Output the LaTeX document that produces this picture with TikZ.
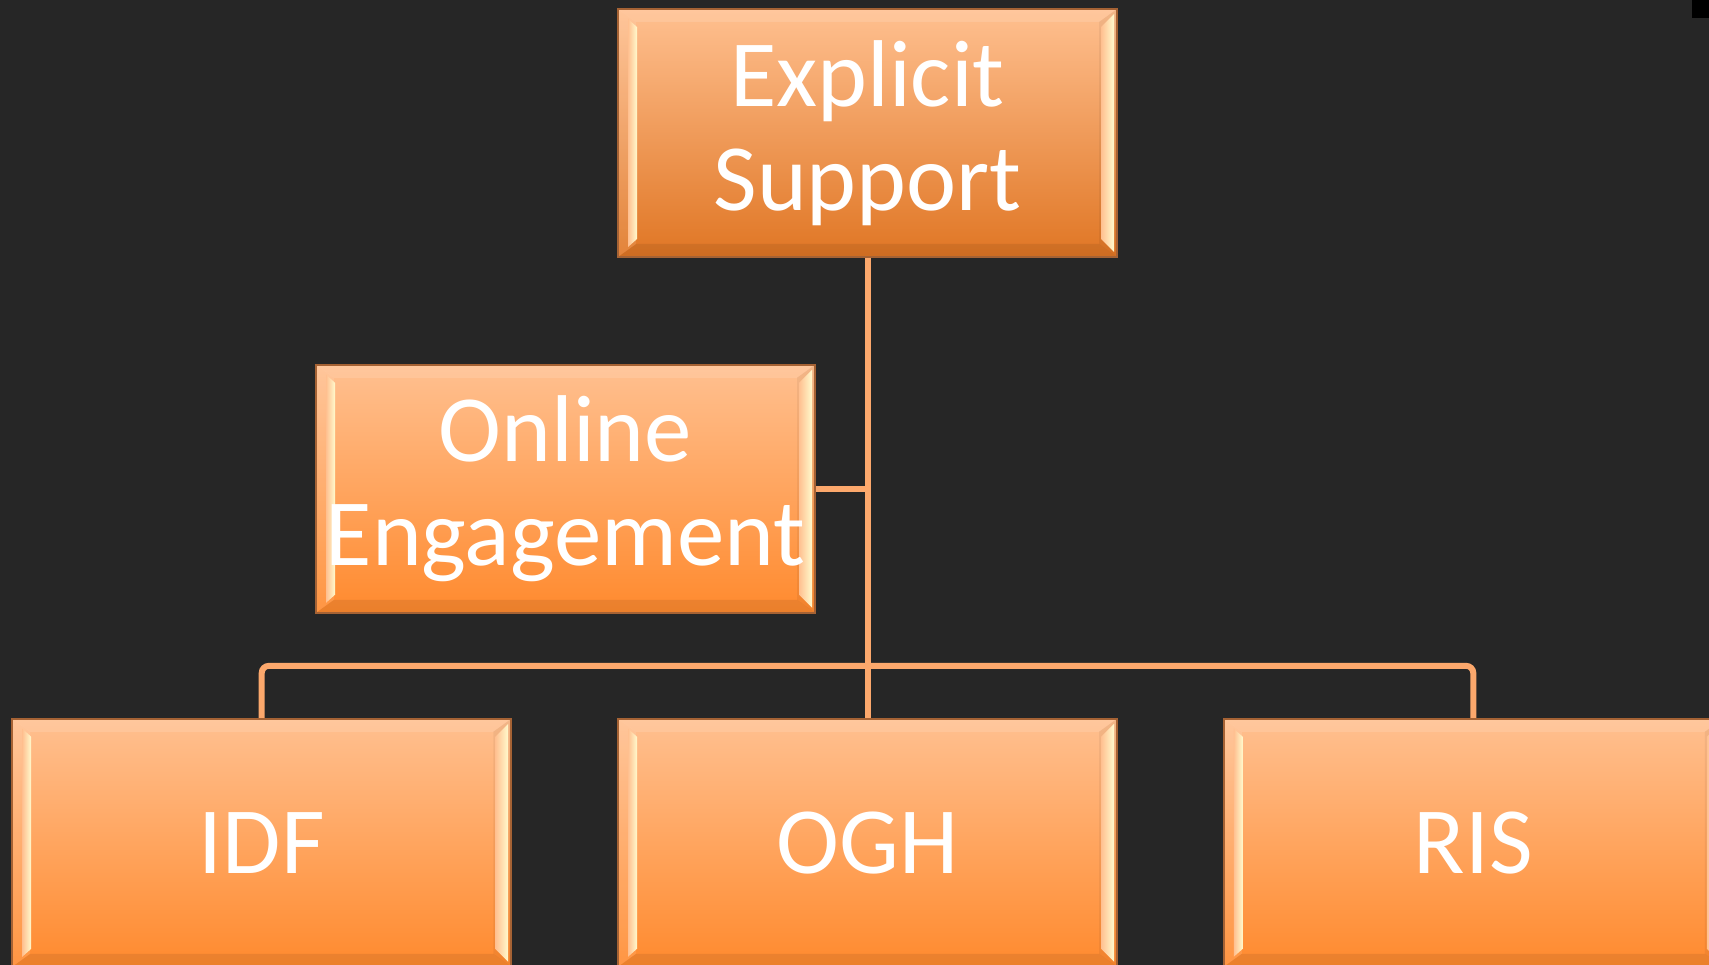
\documentclass[tikz,border=0pt]{standalone}
\usepackage{fontspec}
\setmainfont{Carlito}
\usetikzlibrary{positioning, calc}

\definecolor{bgc}{RGB}{38,38,38}
\definecolor{boxtop}{RGB}{255,192,144}
\definecolor{boxbot}{RGB}{255,138,46}
\definecolor{boxdark}{RGB}{224,118,36}
\definecolor{boxline}{RGB}{165,98,52}
\definecolor{bevlight}{RGB}{255,250,205}
\definecolor{linkc}{RGB}{252,168,108}
\def\ppbb{path picture bounding box}

\begin{document}
\begin{tikzpicture}[node distance=1.06cm and 1.05cm,
    orgbox/.style={rectangle, draw=boxline, line width=0.5pt,
        top color=boxtop, bottom color=boxbot,
        minimum width=4.99cm, minimum height=2.48cm, inner sep=0pt,
        align=center, text=white, font=\fontsize{27}{29.5}\selectfont,
        path picture={
            % bevel faces
            \fill[white, opacity=.12] (\ppbb.north west) -- (\ppbb.north east)
                -- ($(\ppbb.north east)+(-0.18,-0.13)$) -- ($(\ppbb.north west)+(0.18,-0.13)$) -- cycle;
            \fill[black, opacity=.08] (\ppbb.south west) -- (\ppbb.south east)
                -- ($(\ppbb.south east)+(-0.18,0.13)$) -- ($(\ppbb.south west)+(0.18,0.13)$) -- cycle;
            \fill[white, opacity=.10] (\ppbb.north west) -- ($(\ppbb.north west)+(0.18,-0.13)$)
                -- ($(\ppbb.south west)+(0.18,0.13)$) -- (\ppbb.south west) -- cycle;
            \fill[black, opacity=.05] (\ppbb.north east) -- ($(\ppbb.north east)+(-0.18,-0.13)$)
                -- ($(\ppbb.south east)+(-0.18,0.13)$) -- (\ppbb.south east) -- cycle;
            % highlights
            \shade[left color=boxtop, right color=bevlight] ($(\ppbb.north west)+(0.10,-0.10)$)
                -- ($(\ppbb.north west)+(0.19,-0.18)$) -- ($(\ppbb.south west)+(0.19,0.18)$)
                -- ($(\ppbb.south west)+(0.10,0.10)$) -- cycle;
            \shade[left color=boxtop, right color=bevlight] ($(\ppbb.north east)+(-0.16,-0.18)$)
                -- ($(\ppbb.north east)+(-0.03,-0.05)$) -- ($(\ppbb.south east)+(-0.03,0.05)$)
                -- ($(\ppbb.south east)+(-0.16,0.18)$) -- cycle;
        }},
    link/.style={draw=linkc, line width=0.06cm}]

    \useasboundingbox (0,0) rectangle (17.09,-9.65);
    \fill[bgc] (0,0) rectangle (17.09,-9.65);
    \fill[black] (16.92,0) rectangle (17.09,-0.18);

    \node[orgbox, bottom color=boxdark] (expl) at (8.675,-1.33) {Explicit\\Support};
    \node[orgbox, below=of expl, xshift=-3.02cm] (online) {Online\\Engagement};

    % Bottom row
    \node[orgbox, below=4.6cm of expl] (ogh) {OGH};
    \node[orgbox, left=of ogh] (idf) {IDF};
    \node[orgbox, right=of ogh] (ris) {RIS};

    \coordinate (junc) at (online.east -| expl.south);
    \coordinate (bus) at ([yshift=5.2mm]ogh.north);

    \draw[link] (expl.south) -- (ogh.north);
    \draw[link] (online.east) -- (junc);
    \draw[link, rounded corners=2pt] (idf.north) |- (bus) -| (ris.north);
\end{tikzpicture}
\end{document}
